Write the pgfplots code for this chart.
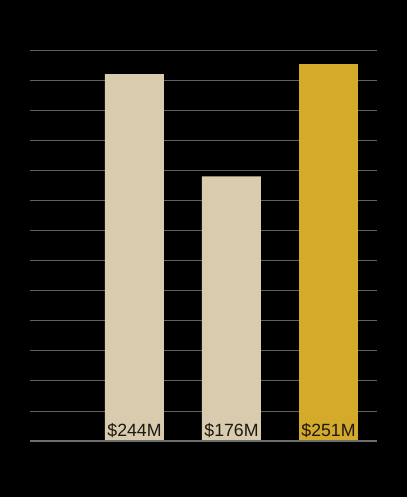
\documentclass[border=0pt]{standalone}
\usepackage{pgfplots}
\pgfplotsset{compat=1.18}
\usepackage{fontspec}
\setmainfont{Liberation Sans}
\definecolor{beige}{RGB}{217,203,173}
\definecolor{gold}{RGB}{212,170,42}
\definecolor{gridc}{RGB}{95,95,95}
\definecolor{basec}{RGB}{110,110,110}
\definecolor{txt}{RGB}{28,24,20}
\begin{document}
\begin{tikzpicture}
\fill[black] (-30bp,-56bp) rectangle (377bp,441bp);
\begin{axis}[
  at={(0,0)}, anchor=south west,
  scale only axis, width=347bp, height=391bp,
  xmin=-1.077, xmax=2.5, ymin=0, ymax=260,
  ytick={0,20,...,260}, xtick=\empty,
  yticklabels=\empty, major tick length=0,
  ymajorgrids, grid style={gridc, line width=0.8bp},
  axis line style={draw=none},
  clip=false,
]
\addplot[ybar, bar width=59bp, fill=beige, draw=none, bar shift=0pt] coordinates {(0,244) (1,176)};
\addplot[ybar, bar width=59bp, fill=gold, draw=none, bar shift=0pt] coordinates {(2,251)};
\draw[basec, line width=2bp] (rel axis cs:0,0) -- (rel axis cs:1,0);
\addplot[draw=none, mark=none, nodes near coords, point meta=explicit symbolic,
  nodes near coords style={anchor=base, yshift=4.5bp, inner sep=0pt, text=txt, font=\fontsize{17.7bp}{20bp}\selectfont}]
  coordinates {(0,0) [\$244M] (1,0) [\$176M] (2,0) [\$251M]};
\end{axis}
\end{tikzpicture}
\end{document}
